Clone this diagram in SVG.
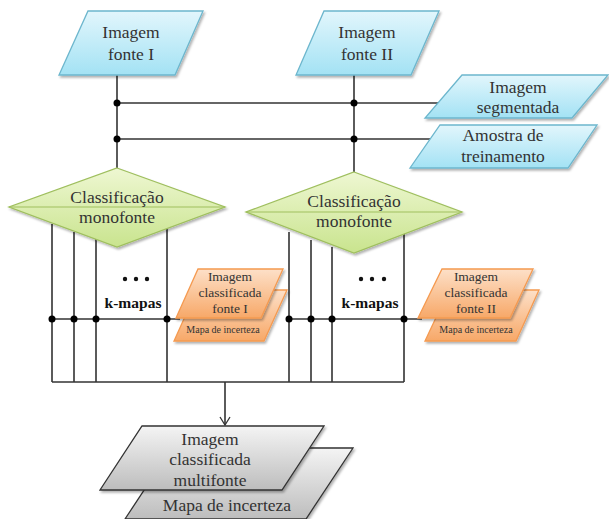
<svg xmlns="http://www.w3.org/2000/svg" width="609" height="519" viewBox="0 0 609 519">
<defs>
<linearGradient id="gBlue" x1="0" y1="0" x2="0" y2="1"><stop offset="0" stop-color="#e2f6fc"/><stop offset="1" stop-color="#a3e2f4"/></linearGradient>
<linearGradient id="gGreen" x1="0" y1="0" x2="0" y2="1"><stop offset="0" stop-color="#eef7d2"/><stop offset="1" stop-color="#c9e48e"/></linearGradient>
<linearGradient id="gOrange" x1="0" y1="0" x2="0" y2="1"><stop offset="0" stop-color="#fde0c8"/><stop offset="1" stop-color="#f7a868"/></linearGradient>
<linearGradient id="gGray" x1="0" y1="0" x2="0" y2="1"><stop offset="0" stop-color="#f4f4f4"/><stop offset="1" stop-color="#bdbdbd"/></linearGradient>
<filter id="sh" x="-10%" y="-10%" width="130%" height="130%"><feDropShadow dx="1.5" dy="2" stdDeviation="1.2" flood-color="#000" flood-opacity="0.3"/></filter>
<marker id="arr" markerWidth="12" markerHeight="12" refX="10" refY="6" orient="auto" markerUnits="userSpaceOnUse"><path d="M2,1 L10,6 L2,11" fill="none" stroke="#333" stroke-width="1.3"/></marker>
</defs>
<style>
.ln{stroke:#333;stroke-width:1.6;fill:none}
.dot{fill:#000}
.blue{fill:url(#gBlue);stroke:#6cb6cd;stroke-width:1.3;filter:url(#sh)}
.green{fill:url(#gGreen);stroke:#9fbf5e;stroke-width:1.3;filter:url(#sh)}
.orange{fill:url(#gOrange);stroke:#f59a50;stroke-width:1.3;filter:url(#sh)}
.gray{fill:url(#gGray);stroke:#333;stroke-width:1.3;filter:url(#sh)}
.gm{stroke:#9fbf5e;stroke-width:1.2}
text{font-family:'Liberation Serif','DejaVu Serif',serif;fill:#333;text-anchor:middle}
.t17{font-size:17.5px}
.t13{font-size:13.5px}
.t10{font-size:10px}
.kb{font-size:15.5px;font-weight:bold;fill:#111}
</style>

<g id="connectors">
<path class="ln" d="M117,75 V168"/>
<path class="ln" d="M354,75 V172"/>
<path class="ln" d="M117,103 H440"/>
<path class="ln" d="M117,139 H432"/>
<path class="ln" d="M52,224 V382 M74,232 V382 M96,239 V382 M167,229 V382"/>
<path class="ln" d="M289,232 V382 M311,240 V382 M332,247 V382 M404,233 V382"/>
<path class="ln" d="M52,319 H180"/>
<path class="ln" d="M289,319 H422"/>
<path class="ln" d="M52,382 H404"/>
<path class="ln" d="M225,382 V425" marker-end="url(#arr)"/>
<circle class="dot" cx="117" cy="103" r="3.5"/>
<circle class="dot" cx="117" cy="139" r="3.5"/>
<circle class="dot" cx="354" cy="103" r="3.5"/>
<circle class="dot" cx="354" cy="139" r="3.5"/>
<circle class="dot" cx="52" cy="319" r="3.5"/>
<circle class="dot" cx="74" cy="319" r="3.5"/>
<circle class="dot" cx="96" cy="319" r="3.5"/>
<circle class="dot" cx="167" cy="319" r="3.5"/>
<circle class="dot" cx="289" cy="319" r="3.5"/>
<circle class="dot" cx="311" cy="319" r="3.5"/>
<circle class="dot" cx="332" cy="319" r="3.5"/>
<circle class="dot" cx="404" cy="319" r="3.5"/>
</g>

<g id="imagem-fonte-1">
<polygon class="blue" points="88,11 203,11 175,75 59,75"/>
<text class="t17" x="131" y="38">Imagem</text>
<text class="t17" x="131" y="60">fonte I</text>
</g>
<g id="imagem-fonte-2">
<polygon class="blue" points="324,11 439,11 411,75 296,75"/>
<text class="t17" x="367" y="38">Imagem</text>
<text class="t17" x="367" y="60">fonte II</text>
</g>
<g id="imagem-segmentada">
<polygon class="blue" points="462,75 608,75 572,118 425,118"/>
<text class="t17" x="518" y="93">Imagem</text>
<text class="t17" x="518" y="113">segmentada</text>
</g>
<g id="amostra-treinamento">
<polygon class="blue" points="440,125 597,125 568,168 410,168"/>
<text class="t17" x="503" y="141">Amostra de</text>
<text class="t17" x="503" y="162">treinamento</text>
</g>

<g id="classificacao-1">
<polygon class="green" points="117,168 225,207 117,247 9,207"/>
<line class="gm" x1="9" y1="207" x2="225" y2="207"/>
<text class="t17" x="117" y="203">Classificação</text>
<text class="t17" x="117" y="223">monofonte</text>
</g>
<g id="classificacao-2">
<polygon class="green" points="354,172 462,212 354,253 246,212"/>
<line class="gm" x1="246" y1="212" x2="462" y2="212"/>
<text class="t17" x="354" y="207">Classificação</text>
<text class="t17" x="354" y="227">monofonte</text>
</g>

<g id="kmapas-1">
<circle cx="125" cy="279" r="2.2" fill="#111"/>
<circle cx="136" cy="279" r="2.2" fill="#111"/>
<circle cx="147" cy="279" r="2.2" fill="#111"/>
<text class="kb" x="133" y="308">k-mapas</text>
</g>
<g id="kmapas-2">
<circle cx="361" cy="279" r="2.2" fill="#111"/>
<circle cx="372" cy="279" r="2.2" fill="#111"/>
<circle cx="384" cy="279" r="2.2" fill="#111"/>
<text class="kb" x="370" y="308">k-mapas</text>
</g>

<g id="classificada-fonte-1">
<polygon class="orange" points="197,290 287,290 264,341 174,341"/>
<text class="t10" x="223" y="333">Mapa de incerteza</text>
<polygon class="orange" points="198,269 283,269 261,318 176,318"/>
<text class="t13" x="230" y="281">Imagem</text>
<text class="t13" x="230" y="297">classificada</text>
<text class="t13" x="230" y="313">fonte I</text>
</g>
<g id="classificada-fonte-2">
<polygon class="orange" points="449,290 539,290 516,341 425,341"/>
<text class="t10" x="476" y="333">Mapa de incerteza</text>
<polygon class="orange" points="442,269 533,269 510,318 418,318"/>
<text class="t13" x="476" y="281">Imagem</text>
<text class="t13" x="476" y="297">classificada</text>
<text class="t13" x="476" y="313">fonte II</text>
</g>

<g id="classificada-multifonte">
<polygon class="gray" points="172,448 353,448 306,519 125,519"/>
<text class="t17" x="227" y="511">Mapa de incerteza</text>
<polygon class="gray" points="142,426 324,426 282,490 100,490"/>
<text class="t17" x="210" y="445">Imagem</text>
<text class="t17" x="210" y="465">classificada</text>
<text class="t17" x="210" y="486">multifonte</text>
</g>
</svg>
